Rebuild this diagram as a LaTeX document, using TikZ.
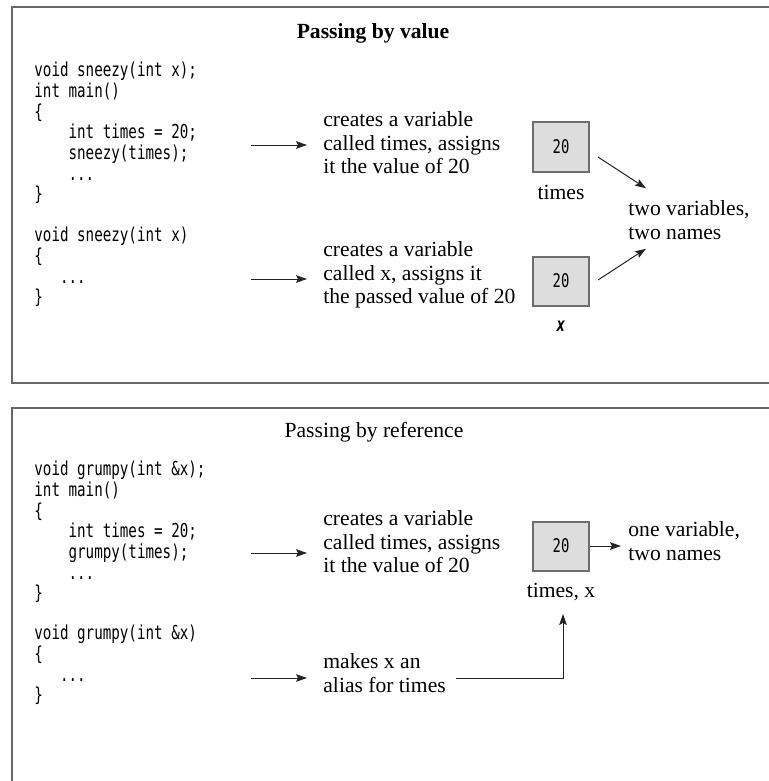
\documentclass[tikz,border=0pt]{standalone}
\usepackage{fontspec}
\setmainfont{Liberation Serif}
\newfontfamily\codefont[FakeStretch=0.74]{DejaVu Sans Mono}
\usetikzlibrary{arrows.meta,positioning}
\definecolor{framegray}{RGB}{105,105,105}
\definecolor{cellfill}{RGB}{221,221,221}
\definecolor{cellline}{RGB}{110,110,110}
\definecolor{arrowgray}{RGB}{35,35,35}
\newcommand{\ind}[1]{\hphantom{#1}}

\begin{document}
\begin{tikzpicture}[
  x=0.5pt, y=-0.5pt,
  panel/.style={draw=framegray, line width=1pt},
  codeblk/.style={anchor=north west, align=left, inner sep=0pt,
    font=\codefont\fontsize{9.6}{10.33}\selectfont},
  remark/.style={anchor=west, align=left, inner sep=0pt,
    font=\fontsize{10.8}{11.7}\selectfont},
  heading/.style={inner sep=0pt, font=\fontsize{10.8}{12}\selectfont},
  cell/.style={draw=cellline, fill=cellfill, line width=1pt, inner sep=0pt,
    minimum width=28pt, minimum height=24.5pt,
    font=\codefont\fontsize{9.4}{10}\selectfont},
  varname/.style={inner sep=0pt, font=\fontsize{10.8}{12}\selectfont},
  arr/.style={-{Stealth[length=5.5pt,width=3.8pt,inset=1pt]}, draw=arrowgray, line width=0.5pt}
]
\useasboundingbox (0,0) rectangle (768,781);

% the two panels
\draw[panel] (12,7) rectangle (790,383);
\draw[panel] (12,408) rectangle (790,800);

% passing by value
\node[heading] (valtitle) at (373,33) {\bfseries Passing by value};
\node[codeblk] (valmain) at (34,62) {void sneezy(int x);\\int main()\\\{\\
  \ind{xxxx}int times = 20;\\\ind{xxxx}sneezy(times);\\\ind{xxxx}...\\\}};
\node[codeblk] (valfunc) at (34,227) {void sneezy(int x)\\\{\\\ind{xxx}...\\\}};
\node[remark] (valnote1) at (323,143) {creates a variable\\called times, assigns\\it the value of 20};
\node[remark] (valnote2) at (323,275) {creates a variable\\called x, assigns it\\the passed value of 20};
\node[cell] (cell1) at (561,147) {20};
\node[cell] (cell2) at (561,281) {20};
\node[varname, below=6pt of cell1.south] (name1) {times};
\node[varname, below=7pt of cell2.south, font=\codefont\fontsize{9.6}{10}\selectfont\bfseries\itshape] (name2) {x};
\node[remark] (twonames) at (628,220) {two variables,\\two names};

\coordinate (vs1) at (251,145);
\coordinate (vs2) at (251,279);
\draw[arr] (vs1) -- ([xshift=-8pt]vs1 -| valnote1.west);
\draw[arr] (vs2) -- ([xshift=-8pt]vs2 -| valnote2.west);
\draw[arr] ([xshift=4pt,yshift=-5pt]cell1.east) -- ([xshift=9pt,yshift=6pt]twonames.north west);
\draw[arr] ([xshift=4pt,yshift=0.5pt]cell2.east) -- ([xshift=9pt,yshift=-4.5pt]twonames.south west);

% passing by reference
\node[heading] (reftitle) at (374,432) {Passing by reference};
\node[codeblk] (refmain) at (34,461) {void grumpy(int \&x);\\int main()\\\{\\
  \ind{xxxx}int times = 20;\\\ind{xxxx}grumpy(times);\\\ind{xxxx}...\\\}};
\node[codeblk] (reffunc) at (34,625) {void grumpy(int \&x)\\\{\\\ind{xxx}...\\\}};
\node[remark] (refnote1) at (323,542) {creates a variable\\called times, assigns\\it the value of 20};
\node[remark] (refnote2) at (323,673) {makes x an\\alias for times};
\node[cell] (cell3) at (561,546) {20};
\node[varname, below=5.5pt of cell3.south] (name3) {times, x};
\node[remark] (onename) at (628,541) {one variable,\\two names};

\coordinate (rs1) at (251,553);
\coordinate (rs2) at (251,678);
\coordinate (alias) at (456,678);
\draw[arr] (rs1) -- ([xshift=-8pt]rs1 -| refnote1.west);
\draw[arr] (rs2) -- ([xshift=-8pt]rs2 -| refnote2.west);
\draw[arr] (cell3.east) -- ([xshift=-3.5pt]cell3.east -| onename.west);
\draw[arr] (alias) -| ([xshift=1pt,yshift=-6.5pt]name3.south);
\end{tikzpicture}
\end{document}
